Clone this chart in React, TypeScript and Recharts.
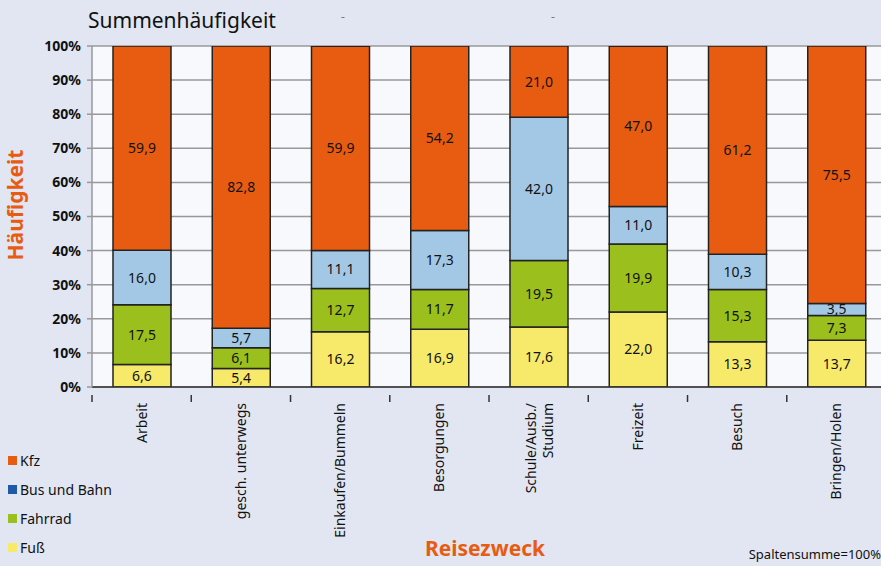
import { BarChart, Bar, XAxis, YAxis, CartesianGrid, LabelList } from "recharts";

const categories = [
    "Arbeit",
    "gesch. unterwegs",
    "Einkaufen/Bummeln",
    "Besorgungen",
    "Schule/Ausb./\nStudium",
    "Freizeit",
    "Besuch",
    "Bringen/Holen",
];
const fuss = [6.6, 5.4, 16.2, 16.9, 17.6, 22.0, 13.3, 13.7];
const fahrrad = [17.5, 6.1, 12.7, 11.7, 19.5, 19.9, 15.3, 7.3];
const busBahn = [16.0, 5.7, 11.1, 17.3, 42.0, 11.0, 10.3, 3.5];
const kfz = [59.9, 82.8, 59.9, 54.2, 21.0, 47.0, 61.2, 75.5];
const yTicks = [0, 10, 20, 30, 40, 50, 60, 70, 80, 90, 100];

const data = categories.map((name, i) => ({
    name,
    fuss: fuss[i],
    fahrrad: fahrrad[i],
    busBahn: busBahn[i],
    kfz: kfz[i],
}));

const FONT = "'Noto Sans', 'DejaVu Sans', sans-serif";
const ORANGE = "#e85c12";

const legendItems = [
    { label: "Kfz", color: ORANGE },
    { label: "Bus und Bahn", color: "#1f5aa6" },
    { label: "Fahrrad", color: "#9bbf1d" },
    { label: "Fuß", color: "#f7ea6b" },
];

const fmt = (v: any) => String(Number(v).toFixed(1)).replace(".", ",");

const CategoryTick = (props: any) => {
    const { x, y, payload } = props;
    const lines = String(payload.value).split("\n");
    const step = 99.2;
    return (
        <g transform={`translate(${x},${y})`}>
            <line x1={-step / 2} y1={0} x2={-step / 2} y2={7} stroke="#333" strokeWidth={1.5} />
            <text
                transform="rotate(-90)"
                textAnchor="end"
                fontSize={14}
                fontFamily={FONT}
                fill="#111"
            >
                {lines.map((l, i) => (
                    <tspan key={i} x={-8} dy={i === 0 ? (lines.length === 1 ? 5 : -3) : 17}>
                        {l}
                    </tspan>
                ))}
            </text>
        </g>
    );
};

const LegendBox = () => (
    <div style={{ position: "absolute", left: 8, top: 446, fontFamily: FONT, fontSize: 14, color: "#111" }}>
        {legendItems.map((it) => (
            <div key={it.label} style={{ display: "flex", alignItems: "center", height: 29 }}>
                <span
                    style={{
                        width: 9,
                        height: 9,
                        background: it.color,
                        display: "inline-block",
                        marginRight: 3,
                    }}
                />
                {it.label}
            </div>
        ))}
    </div>
);

export default function App() {
    return (
        <div
            style={{
                position: "fixed",
                left: 0,
                top: 0,
                width: 881,
                height: 566,
                overflow: "hidden",
                background: "#e1e6f2",
                fontFamily: FONT,
            }}
        >
            <div style={{ position: "absolute", left: 88, top: 6, fontSize: 21, color: "#111" }}>
                Summenhäufigkeit
            </div>
            <div style={{ position: "absolute", left: 341, top: 8, fontSize: 12, color: "#777" }}>-</div>
            <div style={{ position: "absolute", left: 551, top: 8, fontSize: 12, color: "#777" }}>-</div>
            <div
                style={{
                    position: "absolute",
                    left: 15,
                    top: 205,
                    transform: "translate(-50%, -50%) rotate(-90deg)",
                    fontSize: 21,
                    fontWeight: 700,
                    color: ORANGE,
                    whiteSpace: "nowrap",
                }}
            >
                Häufigkeit
            </div>
            <div
                style={{
                    position: "absolute",
                    left: 485,
                    top: 548,
                    transform: "translate(-50%, -50%)",
                    fontSize: 21,
                    fontWeight: 700,
                    color: ORANGE,
                }}
            >
                Reisezweck
            </div>
            <div
                style={{
                    position: "absolute",
                    right: 0,
                    top: 545,
                    fontSize: 13,
                    color: "#111",
                    whiteSpace: "nowrap",
                }}
            >
                Spaltensumme=100%
            </div>
            <LegendBox />
            <BarChart
                width={886}
                height={566}
                data={data}
                margin={{ top: 46, right: 0, bottom: 0, left: 0 }}
                barSize={58}
                style={{ position: "absolute", left: 0, top: 0 }}
            >
                <CartesianGrid vertical={false} stroke="#999" strokeWidth={1.5} fill="#f8f9fd" />
                <XAxis
                    dataKey="name"
                    height={179}
                    tick={<CategoryTick />}
                    tickLine={false}
                    axisLine={{ stroke: "#333", strokeWidth: 1.5 }}
                    interval={0}
                />
                <YAxis
                    width={92}
                    domain={[0, 100]}
                    ticks={yTicks}
                    allowDataOverflow
                    tickFormatter={(v) => `${v}%`}
                    tick={{ fill: "#111", fontSize: 14, fontWeight: 700, fontFamily: FONT }}
                    tickSize={5}
                    tickMargin={6}
                    tickLine={{ stroke: "#999", strokeWidth: 1.5 }}
                    axisLine={{ stroke: "#999", strokeWidth: 1.5 }}
                />
                <Bar dataKey="fuss" stackId="a" fill="#f7ea6b" stroke="#222" strokeWidth={1.5} isAnimationActive={false}>
                    <LabelList dataKey="fuss" position="center" formatter={fmt} fill="#111" fontSize={14} fontFamily={FONT} />
                </Bar>
                <Bar dataKey="fahrrad" stackId="a" fill="#9bbf1d" stroke="#222" strokeWidth={1.5} isAnimationActive={false}>
                    <LabelList dataKey="fahrrad" position="center" formatter={fmt} fill="#111" fontSize={14} fontFamily={FONT} />
                </Bar>
                <Bar dataKey="busBahn" stackId="a" fill="#a3c8e6" stroke="#222" strokeWidth={1.5} isAnimationActive={false}>
                    <LabelList dataKey="busBahn" position="center" formatter={fmt} fill="#111" fontSize={14} fontFamily={FONT} />
                </Bar>
                <Bar dataKey="kfz" stackId="a" fill={ORANGE} stroke="#222" strokeWidth={1.5} isAnimationActive={false}>
                    <LabelList dataKey="kfz" position="center" formatter={fmt} fill="#111" fontSize={14} fontFamily={FONT} />
                </Bar>
            </BarChart>
        </div>
    );
}
